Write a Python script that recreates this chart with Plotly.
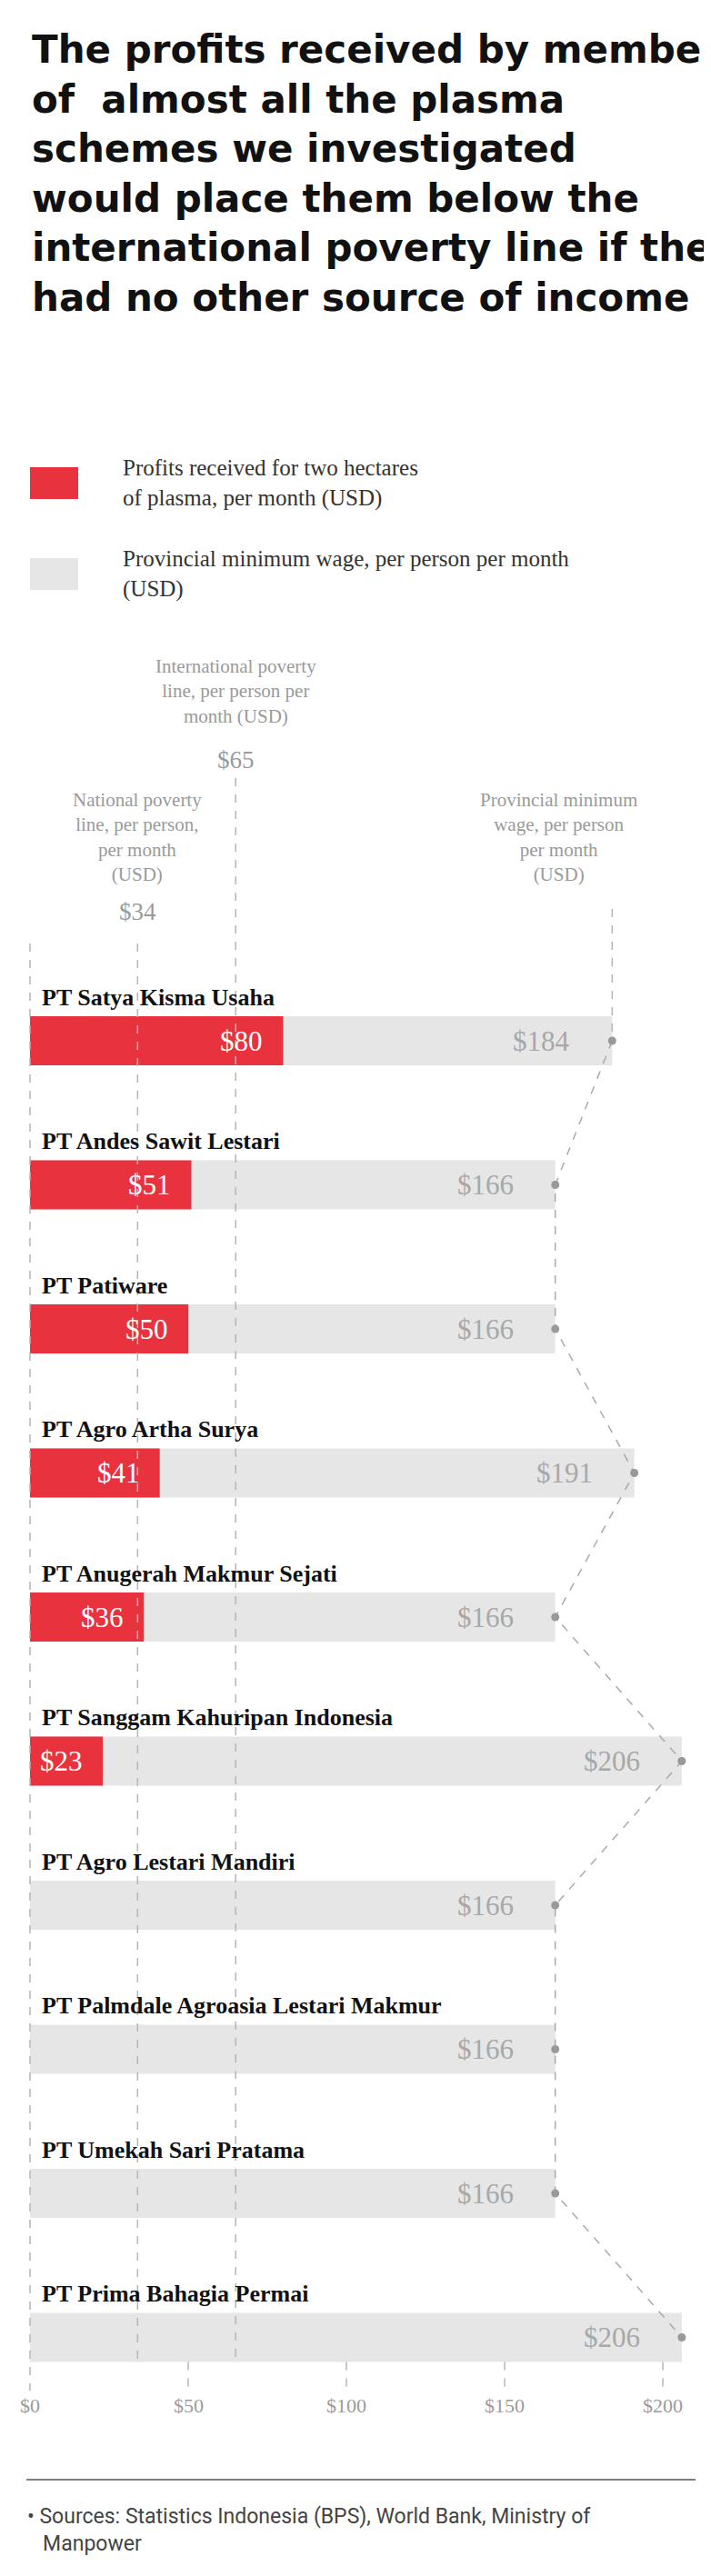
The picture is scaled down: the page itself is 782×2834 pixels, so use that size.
import plotly.graph_objects as go

companies = ["PT Satya Kisma Usaha", "PT Andes Sawit Lestari", "PT Patiware", "PT Agro Artha Surya",
             "PT Anugerah Makmur Sejati", "PT Sanggam Kahuripan Indonesia", "PT Agro Lestari Mandiri",
             "PT Palmdale Agroasia Lestari Makmur", "PT Umekah Sari Pratama", "PT Prima Bahagia Permai"]
profits = [80, 51, 50, 41, 36, 23, None, None, None, None]
min_wage = [184, 166, 166, 191, 166, 206, 166, 166, 166, 206]
national_poverty = 34
intl_poverty = 65
tick_values = [0, 50, 100, 150, 200]
tick_labels = ["$0", "$50", "$100", "$150", "$200"]

RED = "#e8333f"
GREY = "#e6e6e6"
LG = "#9a9a9a"
SERIF = "Liberation Serif"
SANS = "Roboto"

W, H = 782, 2834
x0px, ppu = 25, 3.48
L = 25
xr = [-x0px / ppu, (W - x0px) / ppu]
ys = [1137 + i * 158.5 for i in range(len(companies))]
barw = 54

fig = go.Figure()
fig.add_trace(go.Bar(x=min_wage, y=ys, orientation="h", width=barw, marker=dict(color=GREY, line_width=0),
                     base=0, hoverinfo="skip"))
fig.add_trace(go.Bar(x=[p if p is not None else 0 for p in profits], y=ys, orientation="h", width=barw,
                     marker=dict(color=RED, line_width=0), base=0, hoverinfo="skip"))
fig.update_layout(barmode="overlay")

dash = dict(color="#b5b5b5", width=1.5, dash="dash")
bottom = ys[-1] + barw / 2
fig.add_trace(go.Scatter(x=[0, 0], y=[1030, 2622], mode="lines", line=dash, hoverinfo="skip"))
fig.add_trace(go.Scatter(x=[national_poverty] * 2, y=[1030, bottom], mode="lines", line=dash, hoverinfo="skip"))
fig.add_trace(go.Scatter(x=[intl_poverty] * 2, y=[848, bottom], mode="lines", line=dash, hoverinfo="skip"))
for t in tick_values[1:]:
    fig.add_trace(go.Scatter(x=[t, t], y=[bottom, 2622], mode="lines", line=dash, hoverinfo="skip"))
fig.add_trace(go.Scatter(x=[min_wage[0]] * 2, y=[992, ys[0]], mode="lines", line=dash, hoverinfo="skip"))
fig.add_trace(go.Scatter(x=min_wage, y=ys, mode="lines+markers",
                         line=dict(color="#aaaaaa", width=1.5, dash="dash"),
                         marker=dict(color="#999999", size=9), hoverinfo="skip"))

ann = []
def A(**k):
    ann.append(k)

for i, c in enumerate(companies):
    A(x=0, y=ys[i] - 48, text=c, xanchor="left", yanchor="middle", xshift=11, showarrow=False,
      font=dict(family=SERIF, size=26, color="#111", weight=700))
    if profits[i] is not None:
        A(x=profits[i], y=ys[i], text=f"${profits[i]}", xanchor="right", xshift=-20, showarrow=False,
          font=dict(family=SERIF, size=31, color="white"))
    A(x=min_wage[i], y=ys[i], text=f"${min_wage[i]}", xanchor="right", xshift=-44, showarrow=False,
      font=dict(family=SERIF, size=31, color="#a8a8a8"))

for v, t in zip(tick_values, tick_labels):
    A(x=v, y=2638, text=t, showarrow=False, font=dict(family=SERIF, size=22, color=LG))

A(x=intl_poverty, y=752, text="International poverty<br>line, per person per<br>month (USD)", showarrow=False,
  font=dict(family=SERIF, size=21, color=LG))
A(x=intl_poverty, y=828, text=f"${intl_poverty}", showarrow=False, font=dict(family=SERIF, size=27, color=LG))
A(x=national_poverty, y=913, text="National poverty<br>line, per person,<br>per month<br>(USD)", showarrow=False,
  font=dict(family=SERIF, size=21, color=LG))
A(x=national_poverty, y=995, text=f"${national_poverty}", showarrow=False, font=dict(family=SERIF, size=27, color=LG))
A(x=min_wage[0] - 17, y=913, text="Provincial minimum<br>wage, per person<br>per month<br>(USD)", showarrow=False,
  font=dict(family=SERIF, size=21, color=LG))

fig.update_layout(annotations=[dict(xref="x", yref="y", **a) for a in ann])

title = ("The profits received by members<br>of  almost all the plasma<br>schemes we investigated<br>"
         "would place them below the<br>international poverty line if they<br>had no other source of income")
fig.add_annotation(xref="paper", yref="paper", x=L / W, y=1 - 20 / H, xanchor="left", yanchor="top",
                   text=title, align="left", showarrow=False,
                   font=dict(family="DejaVu Sans", size=42, color="#111", weight=700))
fig.add_shape(type="rect", xref="paper", yref="paper", x0=L / W, x1=(L + 53) / W, y0=1 - 541 / H, y1=1 - 506 / H,
              fillcolor=RED, line_width=0)
fig.add_shape(type="rect", xref="paper", yref="paper", x0=L / W, x1=(L + 53) / W, y0=1 - 641 / H, y1=1 - 606 / H,
              fillcolor=GREY, line_width=0)
fig.add_annotation(xref="paper", yref="paper", x=125 / W, y=1 - 523 / H, xanchor="left", yanchor="middle",
                   text="Profits received for two hectares<br>of plasma, per month (USD)", align="left",
                   showarrow=False, font=dict(family=SERIF, size=25, color="#333"))
fig.add_annotation(xref="paper", yref="paper", x=125 / W, y=1 - 623 / H, xanchor="left", yanchor="middle",
                   text="Provincial minimum wage, per person per month<br>(USD)", align="left",
                   showarrow=False, font=dict(family=SERIF, size=25, color="#333"))
fig.add_shape(type="line", xref="paper", yref="paper", x0=21 / W, x1=757 / W, y0=1 - 2720 / H, y1=1 - 2720 / H,
              line=dict(color="#555", width=1.5))
fig.add_annotation(xref="paper", yref="paper", x=20 / W, y=1 - 2775 / H, xanchor="left", yanchor="middle",
                   text="• Sources: Statistics Indonesia (BPS), World Bank, Ministry of<br>   Manpower", align="left",
                   showarrow=False, font=dict(family=SANS, size=23, color="#444"))

fig.update_layout(width=W, height=H, margin=dict(l=0, r=0, t=0, b=0), showlegend=False,
                  plot_bgcolor="white", paper_bgcolor="white",
                  xaxis=dict(range=xr, visible=False, fixedrange=True),
                  yaxis=dict(range=[H, 0], visible=False, fixedrange=True))
fig.write_html("out.html")
